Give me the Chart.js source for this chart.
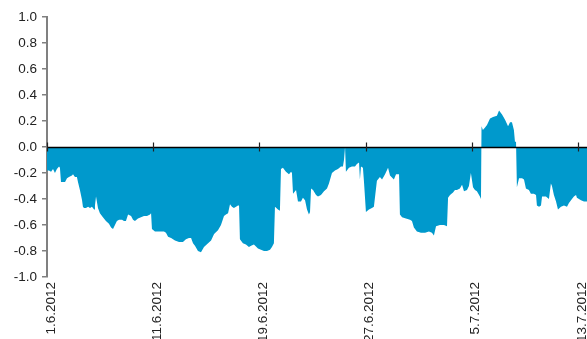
<!DOCTYPE html>
<html>
<head>
<meta charset="utf-8">
<script src="https://cdn.jsdelivr.net/npm/chart.js@4.4.0/dist/chart.umd.min.js"></script>
<style>
  html, body { margin: 0; padding: 0; background: #fff; }
  #wrap { width: 587px; height: 339px; position: relative; }
</style>
</head>
<body>
<div id="wrap"><canvas id="chart"></canvas></div>
<script>
// x position in trading days from 1.6.2012 (0) to 13.7.2012 (30)
const days = [
  0, 0.11, 0.23, 0.34, 0.45, 0.56, 0.68, 0.73, 0.79, 0.90,
  1.02, 1.13, 1.24, 1.41, 1.47, 1.58, 1.69, 1.75, 1.86, 1.98,
  2.03, 2.09, 2.20, 2.32, 2.43, 2.54, 2.66, 2.71, 2.77, 2.82,
  2.88, 2.99, 3.16, 3.33, 3.50, 3.62, 3.73, 3.84, 3.95, 4.07,
  4.24, 4.35, 4.46, 4.58, 4.75, 4.86, 4.97, 5.14, 5.31, 5.48,
  5.65, 5.82, 5.88, 5.93, 6.10, 6.27, 6.44, 6.61, 6.72, 6.84,
  7.01, 7.23, 7.46, 7.68, 7.85, 8.02, 8.14, 8.25, 8.36, 8.53,
  8.70, 8.87, 9.10, 9.27, 9.44, 9.66, 9.83, 10.00, 10.11, 10.23,
  10.34, 10.45, 10.56, 10.68, 10.79, 10.85, 10.90, 11.07, 11.24, 11.41,
  11.53, 11.69, 11.92, 12.09, 12.26, 12.43, 12.60, 12.71, 12.82, 12.88,
  13.05, 13.16, 13.22, 13.33, 13.50, 13.67, 13.79, 13.84, 13.90, 14.07,
  14.18, 14.35, 14.46, 14.58, 14.69, 14.80, 14.86, 14.92, 15.03, 15.20,
  15.31, 15.48, 15.65, 15.82, 15.93, 16.10, 16.27, 16.44, 16.61, 16.72,
  16.78, 16.84, 16.89, 17.06, 17.23, 17.40, 17.51, 17.63, 17.68, 17.74,
  17.85, 17.91, 18.02, 18.19, 18.36, 18.47, 18.64, 18.81, 18.93, 19.10,
  19.27, 19.38, 19.60, 19.72, 19.83, 19.89, 19.94, 20.06, 20.28, 20.51,
  20.62, 20.73, 20.90, 21.13, 21.36, 21.58, 21.75, 21.86, 21.98, 22.20,
  22.43, 22.60, 22.66, 22.77, 22.94, 23.05, 23.16, 23.33, 23.45, 23.56,
  23.73, 23.84, 23.95, 24.07, 24.18, 24.29, 24.46, 24.52, 24.55, 24.63,
  24.75, 24.86, 25.03, 25.20, 25.42, 25.54, 25.71, 25.88, 26.05, 26.16,
  26.27, 26.38, 26.44, 26.50, 26.55, 26.67, 26.84, 26.95, 27.06, 27.23,
  27.34, 27.51, 27.63, 27.68, 27.80, 27.91, 27.97, 28.19, 28.36, 28.47,
  28.53, 28.64, 28.76, 28.87, 29.04, 29.21, 29.38, 29.49, 29.66, 29.77,
  29.89, 29.94, 30.17, 30.34, 30.51
];

const values = [
  -0.18, -0.18, -0.19, -0.17, -0.20, -0.17, -0.15, -0.16, -0.27, -0.27,
  -0.27, -0.24, -0.23, -0.22, -0.21, -0.23, -0.23, -0.27, -0.33, -0.41,
  -0.46, -0.47, -0.47, -0.46, -0.47, -0.46, -0.48, -0.45, -0.38, -0.38,
  -0.47, -0.51, -0.54, -0.57, -0.59, -0.62, -0.63, -0.60, -0.57, -0.56,
  -0.56, -0.57, -0.57, -0.52, -0.53, -0.56, -0.57, -0.55, -0.54, -0.53,
  -0.53, -0.52, -0.51, -0.63, -0.65, -0.65, -0.65, -0.65, -0.66, -0.69,
  -0.70, -0.72, -0.73, -0.73, -0.71, -0.70, -0.70, -0.74, -0.76, -0.80,
  -0.81, -0.77, -0.74, -0.72, -0.67, -0.64, -0.60, -0.53, -0.52, -0.51,
  -0.44, -0.46, -0.47, -0.46, -0.45, -0.45, -0.71, -0.74, -0.75, -0.77,
  -0.76, -0.75, -0.78, -0.79, -0.80, -0.80, -0.79, -0.77, -0.74, -0.46,
  -0.48, -0.49, -0.17, -0.16, -0.19, -0.21, -0.19, -0.20, -0.36, -0.33,
  -0.42, -0.42, -0.39, -0.41, -0.48, -0.52, -0.50, -0.32, -0.33, -0.37,
  -0.38, -0.37, -0.34, -0.32, -0.28, -0.20, -0.18, -0.17, -0.15, -0.15,
  -0.10, 0.00, -0.19, -0.16, -0.15, -0.15, -0.13, -0.12, -0.25, -0.15,
  -0.16, -0.27, -0.50, -0.48, -0.47, -0.46, -0.26, -0.23, -0.25, -0.21,
  -0.16, -0.22, -0.25, -0.21, -0.21, -0.21, -0.52, -0.54, -0.55, -0.56,
  -0.57, -0.62, -0.65, -0.66, -0.66, -0.65, -0.66, -0.68, -0.61, -0.60,
  -0.60, -0.61, -0.39, -0.37, -0.35, -0.33, -0.33, -0.32, -0.29, -0.34,
  -0.33, -0.30, -0.20, -0.31, -0.33, -0.34, -0.38, -0.40, 0.16, 0.13,
  0.15, 0.17, 0.22, 0.23, 0.24, 0.28, 0.25, 0.21, 0.16, 0.19,
  0.19, 0.13, 0.04, 0.04, -0.31, -0.24, -0.24, -0.25, -0.32, -0.33,
  -0.36, -0.36, -0.37, -0.45, -0.46, -0.45, -0.38, -0.38, -0.40, -0.28,
  -0.30, -0.37, -0.42, -0.48, -0.46, -0.45, -0.46, -0.43, -0.40, -0.38,
  -0.37, -0.39, -0.41, -0.42, -0.42
];

const tickDays = [0, 6, 12, 18, 24, 30];
const tickLabels = ['1.6.2012', '11.6.2012', '19.6.2012', '27.6.2012', '5.7.2012', '13.7.2012'];

const points = days.map((d, i) => ({ x: d, y: values[i] }));

// zero line with small crossing ticks, like an axis drawn through 0
const zeroAxis = {
  id: 'zeroAxis',
  afterDatasetsDraw(chart) {
    const { ctx, chartArea, scales } = chart;
    const y0 = Math.round(scales.y.getPixelForValue(0)) + 0.5;
    ctx.save();
    ctx.strokeStyle = '#000';
    ctx.lineWidth = 1.5;
    ctx.beginPath();
    ctx.moveTo(chartArea.left, y0);
    ctx.lineTo(chartArea.right, y0);
    ctx.stroke();
    ctx.lineWidth = 1.2;
    ctx.strokeStyle = '#222';
    tickDays.forEach(d => {
      const x = Math.round(scales.x.getPixelForValue(d)) + 0.5;
      ctx.beginPath();
      ctx.moveTo(x, y0 - 5);
      ctx.lineTo(x, y0 + 4);
      ctx.stroke();
    });
    ctx.restore();
  }
};

new Chart(document.getElementById('chart'), {
  type: 'line',
  data: {
    datasets: [{
      data: points,
      backgroundColor: '#0099CC',
      borderWidth: 0,
      pointRadius: 0,
      fill: 'origin',
      tension: 0
    }]
  },
  options: {
    responsive: true,
    maintainAspectRatio: false,
    animation: false,
    layout: { padding: { top: 17, right: 0, left: 0, bottom: 0 } },
    plugins: { legend: { display: false }, tooltip: { enabled: false } },
    scales: {
      x: {
        type: 'linear',
        min: 0,
        max: 30.51,
        afterBuildTicks(scale) {
          scale.ticks = tickDays.map(v => ({ value: v }));
        },
        afterFit(scale) {
          scale.height = 62;
          scale.paddingLeft = 0;
          scale.paddingRight = 0;
        },
        grid: { display: false, drawTicks: false },
        border: { display: false },
        ticks: {
          minRotation: 90,
          maxRotation: 90,
          padding: 5,
          labelOffset: 4,
          color: '#222',
          font: { family: 'Liberation Sans, Arial, sans-serif', size: 13.5 },
          callback: v => tickLabels[tickDays.indexOf(v)]
        }
      },
      y: {
        min: -1,
        max: 1,
        afterFit(scale) { scale.width = 47; },
        grid: { drawOnChartArea: false, drawTicks: true, tickLength: 5, color: '#808080', lineWidth: 1.5 },
        border: { display: true, color: '#808080', width: 2 },
        ticks: {
          stepSize: 0.2,
          padding: 5,
          color: '#222',
          font: { family: 'Liberation Sans, Arial, sans-serif', size: 13.5 },
          callback: v => (Math.abs(v) < 1e-9 ? 0 : v).toFixed(1)
        }
      }
    }
  },
  plugins: [zeroAxis]
});
</script>
</body>
</html>
